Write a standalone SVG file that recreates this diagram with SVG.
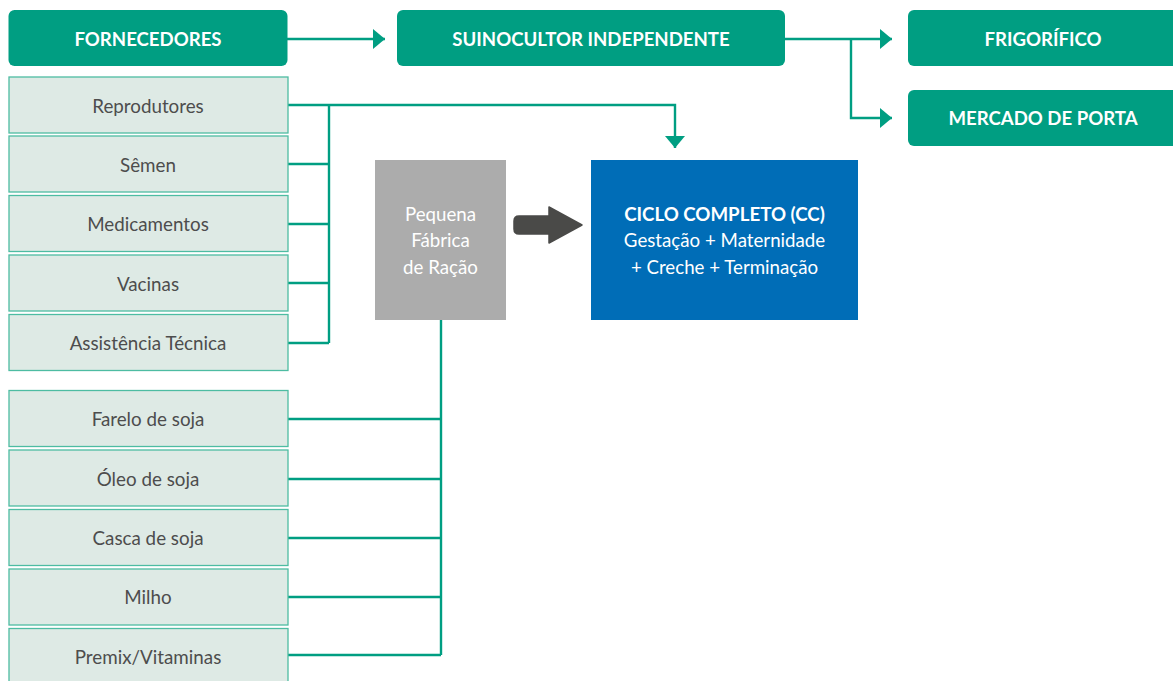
<svg xmlns="http://www.w3.org/2000/svg" width="1173" height="681" viewBox="0 0 1173 681">
<style>
.hdr{fill:#009e82}
.ht{fill:#fff;font-family:Lato,"Liberation Sans",sans-serif;font-weight:bold;font-size:18.6px;text-anchor:middle}
.sup{fill:#deeae5;stroke:#4dbca2;stroke-width:1.3}
.st{fill:#4d4d4d;font-family:Lato,"Liberation Sans",sans-serif;font-size:18.8px;text-anchor:middle}
.con{fill:none;stroke:#009e82;stroke-width:2.4}
.wt{fill:#fff;font-family:Lato,"Liberation Sans",sans-serif;font-size:18.7px;text-anchor:middle}
</style>
<defs>
<marker id="ah" markerWidth="12" markerHeight="20" refX="12" refY="10" orient="auto" markerUnits="userSpaceOnUse">
<path d="M0,0 L12,10 L0,20 Z" fill="#009e82"/>
</marker>
</defs>
<rect width="1173" height="681" fill="#fff"/>

<g id="connectors">
<path class="con" d="M287,39 H385" marker-end="url(#ah)"/>
<path class="con" d="M785,39 H892" marker-end="url(#ah)"/>
<path class="con" d="M851,39 V118 H892" marker-end="url(#ah)"/>
<path class="con" d="M288,105 H675 V148" marker-end="url(#ah)"/>
<path class="con" d="M329,105 V343"/>
<path class="con" d="M288,164 H329 M288,224 H329 M288,283 H329 M288,343 H329"/>
<path class="con" d="M441,320 V655"/>
<path class="con" d="M288,419 H441 M288,479 H441 M288,538 H441 M288,597 H441 M288,655 H441"/>
<path d="M519,216 H549 V207 L582,225 L549,243 V234 H519 Q514,234 514,229 V221 Q514,216 519,216 Z" fill="#4a4a48" stroke="#4a4a48" stroke-width="1.5" stroke-linejoin="round"/>
</g>

<g id="fornecedores"><rect class="hdr" x="8.5" y="10" width="279" height="56" rx="6"/><text class="ht" x="148" y="45.5">FORNECEDORES</text></g>
<g id="suinocultor"><rect class="hdr" x="397" y="10" width="388" height="56" rx="6"/><text class="ht" x="591" y="45.5">SUINOCULTOR INDEPENDENTE</text></g>
<g id="frigorifico"><rect class="hdr" x="908" y="10" width="275" height="56" rx="6"/><text class="ht" x="1043" y="45.5">FRIGORÍFICO</text></g>
<g id="mercado"><rect class="hdr" x="908" y="90" width="275" height="56" rx="6"/><text class="ht" x="1043" y="124.5">MERCADO DE PORTA</text></g>

<g id="reprodutores"><rect class="sup" x="9" y="77" width="279" height="56"/><text class="st" x="148" y="112.5">Reprodutores</text></g>
<g id="semen"><rect class="sup" x="9" y="136" width="279" height="56"/><text class="st" x="148" y="171.5">Sêmen</text></g>
<g id="medicamentos"><rect class="sup" x="9" y="195.5" width="279" height="56"/><text class="st" x="148" y="230.5">Medicamentos</text></g>
<g id="vacinas"><rect class="sup" x="9" y="255" width="279" height="56"/><text class="st" x="148" y="290.5">Vacinas</text></g>
<g id="assistencia"><rect class="sup" x="9" y="314.5" width="279" height="56"/><text class="st" x="148" y="349.5">Assistência Técnica</text></g>

<g id="farelo"><rect class="sup" x="9" y="390.5" width="279" height="56"/><text class="st" x="148" y="425.5">Farelo de soja</text></g>
<g id="oleo"><rect class="sup" x="9" y="450" width="279" height="56"/><text class="st" x="148" y="485.5">Óleo de soja</text></g>
<g id="casca"><rect class="sup" x="9" y="509.5" width="279" height="56"/><text class="st" x="148" y="544.5">Casca de soja</text></g>
<g id="milho"><rect class="sup" x="9" y="569" width="279" height="56"/><text class="st" x="148" y="603.5">Milho</text></g>
<g id="premix"><rect class="sup" x="9" y="628.5" width="279" height="56"/><text class="st" x="148" y="663.5">Premix/Vitaminas</text></g>

<g id="fabrica"><rect x="375" y="160" width="131" height="160" fill="#acacac"/>
<text class="wt" x="440.5" y="220.5">Pequena</text><text class="wt" x="440.5" y="247">Fábrica</text><text class="wt" x="440.5" y="273.5">de Ração</text></g>

<g id="ciclo"><rect x="591" y="160" width="267" height="160" fill="#006db7"/>
<text class="wt" x="724.5" y="220.5" font-weight="bold">CICLO COMPLETO (CC)</text>
<text class="wt" x="724.5" y="247">Gestação + Maternidade</text>
<text class="wt" x="724.5" y="273.5">+ Creche + Terminação</text></g>
</svg>
